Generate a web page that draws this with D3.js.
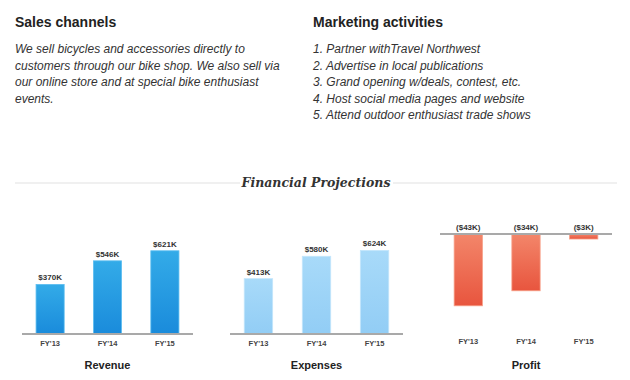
<!DOCTYPE html>
<html>
<head>
<meta charset="utf-8">
<script src="https://cdn.jsdelivr.net/npm/d3@7"></script>
<style>
  body { margin: 0; background: #fff; }
  text { font-family: "Liberation Sans", Arial, sans-serif; }
</style>
</head>
<body>
<div id="chart"></div>
<script>
// data
const years = ["FY'13", "FY'14", "FY'15"];
const revenue = [370, 546, 621];
const expenses = [413, 580, 624];
const profit = [-43, -34, -3];
const panelTitles = ["Revenue", "Expenses", "Profit"];

const salesText = [
  "We sell bicycles and accessories directly to",
  "customers through our bike shop. We also sell via",
  "our online store and at special bike enthusiast",
  "events."
];
const marketingText = [
  "1. Partner withTravel Northwest",
  "2. Advertise in local publications",
  "3. Grand opening w/deals, contest, etc.",
  "4. Host social media pages and website",
  "5. Attend outdoor enthusiast trade shows"
];

const svg = d3.select("#chart")
  .append("svg")
    .attr("width", 630)
    .attr("height", 380);

// gradients for the bars
const defs = svg.append("defs");
function grad(id, top, bottom) {
  const g = defs.append("linearGradient").attr("id", id)
    .attr("x1", 0).attr("y1", 0).attr("x2", 0).attr("y2", 1);
  g.append("stop").attr("offset", "0%").attr("stop-color", top);
  g.append("stop").attr("offset", "100%").attr("stop-color", bottom);
}
grad("gRev", "#33abe8", "#1a8bdb");
grad("gExp", "#a8daf9", "#92cdf5");
grad("gPro", "#f3866a", "#e8553e");

// text blocks
function textBlock(x, title, lines) {
  svg.append("text")
    .attr("x", x).attr("y", 27)
    .attr("font-size", 14).attr("font-weight", "bold")
    .attr("fill", "#222")
    .text(title);
  svg.selectAll(null)
    .data(lines)
    .enter().append("text")
      .attr("x", x)
      .attr("y", (d, i) => 53 + i * 16.5)
      .attr("font-size", 12)
      .attr("font-style", "italic")
      .attr("fill", "#333")
      .text(d => d);
}
textBlock(15, "Sales channels", salesText);
textBlock(313, "Marketing activities", marketingText);

// section heading with rules
svg.append("line").attr("x1", 15).attr("x2", 240).attr("y1", 183).attr("y2", 183)
  .attr("stroke", "#ebebeb").attr("stroke-width", 1.5);
svg.append("line").attr("x1", 393).attr("x2", 617).attr("y1", 183).attr("y2", 183)
  .attr("stroke", "#ebebeb").attr("stroke-width", 1.5);
svg.append("text")
  .attr("x", 316).attr("y", 187)
  .attr("text-anchor", "middle")
  .attr("font-style", "italic")
  .attr("font-weight", "bold")
  .attr("font-size", 12.5)
  .attr("fill", "#333")
  .style("font-family", "'DejaVu Serif', serif")
  .text("Financial Projections");

const fmt = v => v < 0 ? "($" + Math.abs(v) + "K)" : "$" + v + "K";

// one small bar chart
function drawPanel(opts) {
  const x = d3.scaleBand()
    .domain(years)
    .range([opts.x0, opts.x1])
    .paddingInner(0.51)
    .paddingOuter(0.245);

  const y = d3.scaleLinear()
    .domain(opts.domain)
    .range(opts.range);

  const g = svg.append("g");

  g.selectAll("rect")
    .data(opts.values)
    .enter().append("rect")
      .attr("x", (d, i) => x(years[i]))
      .attr("y", d => Math.min(y(d), y(0)))
      .attr("width", x.bandwidth())
      .attr("height", d => Math.abs(y(d) - y(0)))
      .attr("fill", "url(#" + opts.fill + ")")
      .attr("stroke", opts.stroke)
      .attr("stroke-width", 0.8);

  // baseline
  g.append("line")
    .attr("x1", opts.x0).attr("x2", opts.x1)
    .attr("y1", y(0)).attr("y2", y(0))
    .attr("stroke", "#a9a9a9").attr("stroke-width", 2);

  // value labels
  g.selectAll(".val")
    .data(opts.values)
    .enter().append("text")
      .attr("class", "val")
      .attr("x", (d, i) => x(years[i]) + x.bandwidth() / 2)
      .attr("y", d => d < 0 ? y(0) - 4 : y(d) - 4)
      .attr("text-anchor", "middle")
      .attr("font-size", 8)
      .attr("font-weight", "bold")
      .attr("fill", "#333")
      .text(fmt);

  // category axis (no line, labels only)
  const axis = g.append("g")
    .attr("transform", "translate(0," + opts.axisY + ")")
    .call(d3.axisBottom(x).tickSize(0).tickPadding(0));
  axis.select(".domain").remove();
  axis.selectAll("text")
    .attr("font-size", 7.5)
    .attr("font-weight", "bold")
    .attr("fill", "#444")
    .style("font-family", "'Liberation Sans', Arial, sans-serif");

  g.append("text")
    .attr("x", (opts.x0 + opts.x1) / 2)
    .attr("y", 369)
    .attr("text-anchor", "middle")
    .attr("font-size", 11)
    .attr("font-weight", "bold")
    .attr("fill", "#222")
    .text(opts.title);
}

drawPanel({ x0: 22, x1: 193, values: revenue, domain: [0, 700], range: [334, 334 - 93.8],
  fill: "gRev", stroke: "#5cbdf0", axisY: 341, title: panelTitles[0] });
drawPanel({ x0: 230, x1: 403, values: expenses, domain: [0, 700], range: [334, 334 - 93.8],
  fill: "gExp", stroke: "#c4e6fb", axisY: 341, title: panelTitles[1] });
drawPanel({ x0: 440, x1: 612, values: profit, domain: [-50, 0], range: [234 + 83.5, 234],
  fill: "gPro", stroke: "#f7a088", axisY: 339, title: panelTitles[2] });
</script>
</body>
</html>
